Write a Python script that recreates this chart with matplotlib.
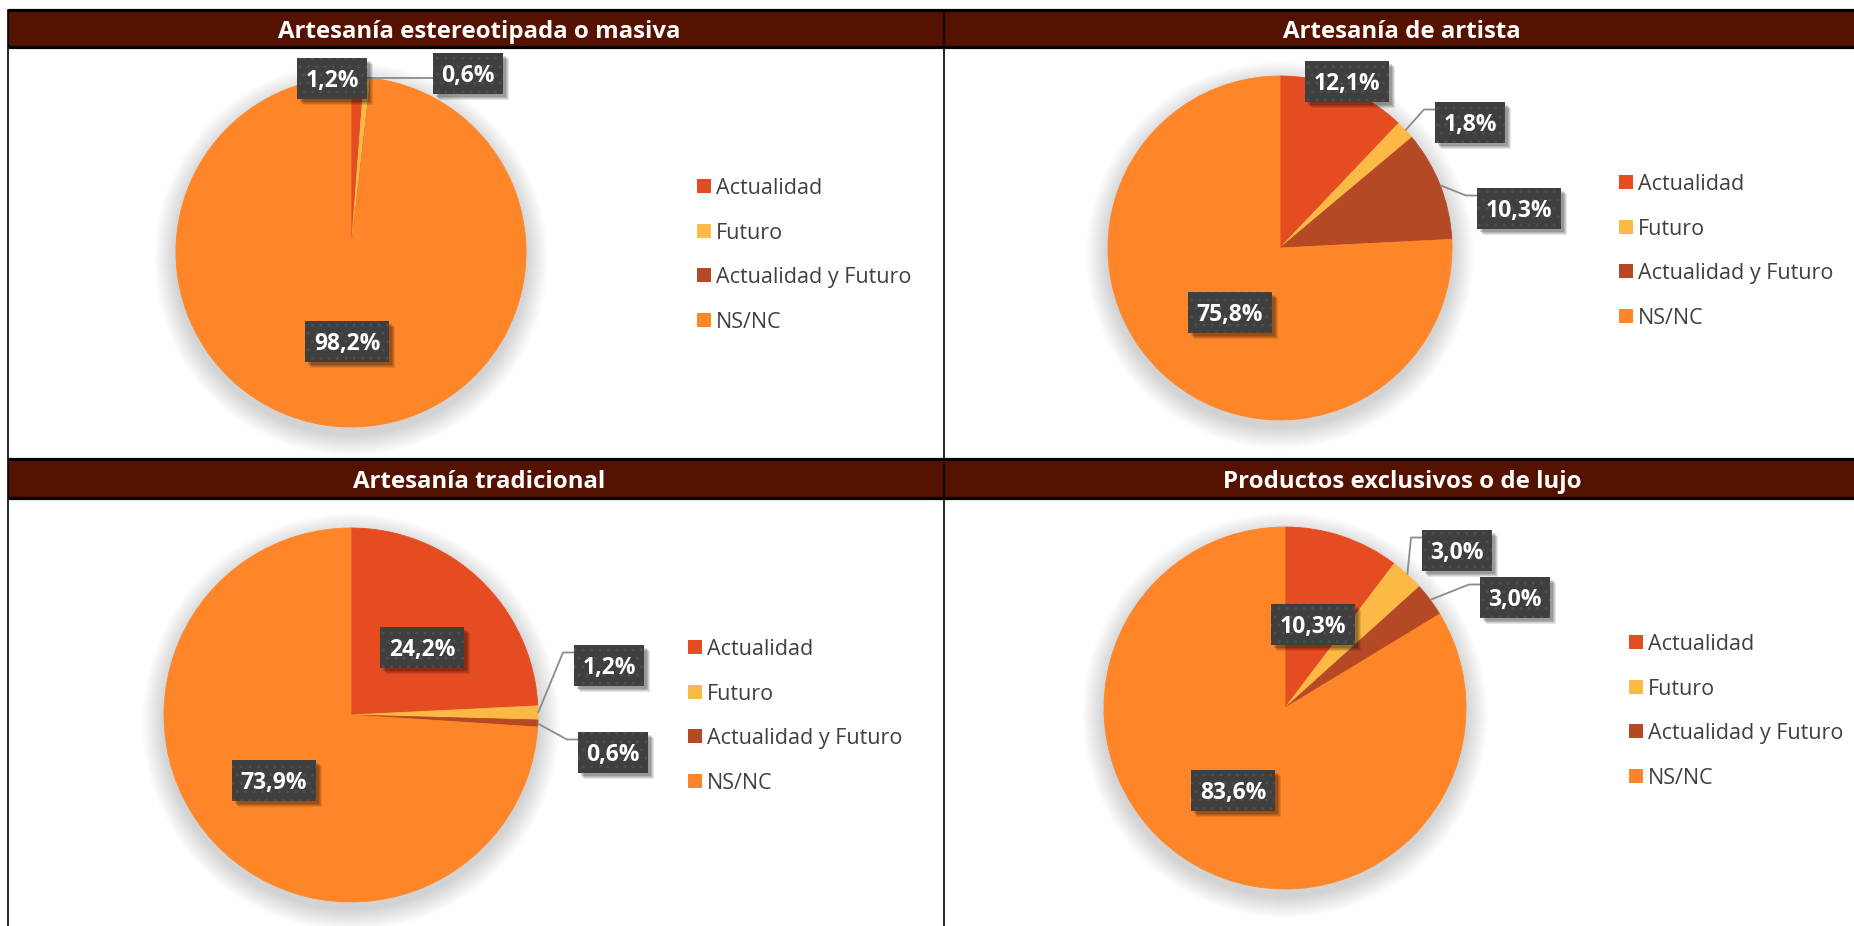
import numpy as np
import matplotlib
matplotlib.use("Agg")
import matplotlib.pyplot as plt
from matplotlib.patches import Rectangle, Circle

# ---------------------------------------------------------------- data
categories = ["Actualidad", "Futuro", "Actualidad y Futuro", "NS/NC"]
colors = ["#E64C22", "#FDB946", "#B54926", "#FF8628"]

titles = [
    "Artesanía estereotipada o masiva",
    "Artesanía de artista",
    "Artesanía tradicional",
    "Productos exclusivos o de lujo",
]
masiva = [1.2, 0.6, 0.0, 98.2]
artista = [12.1, 1.8, 10.3, 75.8]
tradicional = [24.2, 1.2, 0.6, 73.9]
lujo = [10.3, 3.0, 3.0, 83.6]
series = [masiva, artista, tradicional, lujo]

# ---------------------------------------------------------------- layout (pixels, y from top)
W, H = 1854, 926
LEFT, MID = 8, 944
ROW_BANDS = [(10, 47), (459, 498)]
panel_x = [(LEFT, MID), (MID, W), (LEFT, MID), (MID, W)]
panel_row = [0, 0, 1, 1]

pie_geom = [((351, 252), 175), ((1280, 248), 172),
            ((351, 715), 187), ((1285, 708), 181)]

# box centre of each value label (None = not shown) and whether it uses a leader line
label_pos = [
    [(332, 78), (468, 73), None, (347, 341)],
    [(1347, 81), (1470, 122), (1519, 208), (1230, 312)],
    [(422, 647), (609, 665), (613, 752), (274, 780)],
    [(1313, 624), (1457, 550), (1515, 597), (1233, 790)],
]
leader = [
    [False, "straight", False, False],
    [False, "elbow", "elbow", False],
    [False, "elbow", "elbow", False],
    [False, "elbow", "elbow", False],
]
legend_origin = [(697, 186), (1619, 182), (688, 647), (1629, 642)]
LEGEND_STEP = 44.7

FONT = ["Open Sans", "DejaVu Sans"]
HEADER = "#561200"
BOX = "#3F3F3F"
TEXT_GRAY = "#404040"

fig = plt.figure(figsize=(W / 100, H / 100), dpi=100)
ax = fig.add_axes([0, 0, 1, 1])


def Y(y):
    return H - y


# ---------------------------------------------------------------- frame and headers
for (t, b) in ROW_BANDS:
    ax.add_patch(Rectangle((LEFT, Y(b)), W - LEFT, b - t, facecolor=HEADER,
                           edgecolor="none", zorder=1))
    for yy in (t, b):
        ax.plot([LEFT, W], [Y(yy), Y(yy)], color="black", lw=2.3, zorder=2,
                solid_capstyle="butt")
for xx in (LEFT, MID):
    ax.plot([xx, xx], [Y(ROW_BANDS[0][0]), 0], color="black", lw=1.2, zorder=2)

for i, title in enumerate(titles):
    x0, x1 = panel_x[i]
    t, b = ROW_BANDS[panel_row[i]]
    ax.text((x0 + x1) / 2 + 3, Y((t + b) / 2), title, color="white",
            fontsize=17.3, fontweight="bold", family=FONT,
            ha="center", va="center_baseline", zorder=3)

# ---------------------------------------------------------------- pies
for i, vals in enumerate(series):
    (cx, cy), r = pie_geom[i]
    # soft drop shadow around the pie
    for k in range(22):
        ax.add_patch(Circle((cx, Y(cy) - 7), r + 1 + k, facecolor="black",
                            edgecolor="none", alpha=0.0065, zorder=3))
    wedges, _ = ax.pie(vals, colors=colors, startangle=90, counterclock=False,
                       center=(cx, Y(cy)), radius=r, frame=True,
                       wedgeprops=dict(linewidth=0.6, zorder=4))
    for w in wedges:
        w.set_edgecolor(w.get_facecolor())

    total = float(sum(vals))
    cum = 0.0
    for j, v in enumerate(vals):
        mid = 90 - 360.0 * (cum + v / 2) / total
        cum += v
        pos = label_pos[i][j]
        if pos is None or v == 0:
            continue
        text = f"{v:.1f}".replace(".", ",") + "%"
        bw = 14 * len(text) + 14
        bh = 41
        bx, by = pos
        left, top = bx - bw / 2, by - bh / 2

        # leader line from the slice edge to the label box
        mode = leader[i][j]
        if mode:
            ex = cx + r * np.cos(np.radians(mid))
            ey = cy - r * np.sin(np.radians(mid))
            if mode == "straight":
                xs, ys = [ex, left], [ey, ey]
            else:
                ly = top + 8
                xs, ys = [ex, left - 11, left], [ey, ly, ly]
            ax.plot(xs, [Y(v_) for v_ in ys], color="#8C8C8C", lw=1.3,
                    zorder=5, solid_capstyle="butt")

        # shadow, box, dotted texture and value text
        for k, a in enumerate((0.10, 0.10, 0.12, 0.14)):
            off = 6 - k
            ax.add_patch(Rectangle((left + off, Y(top + bh + off)), bw, bh,
                                   facecolor="black", edgecolor="none",
                                   alpha=a, zorder=6))
        ax.add_patch(Rectangle((left, Y(top + bh)), bw, bh, facecolor=BOX,
                               edgecolor="none", zorder=7))
        ax.add_patch(Rectangle((left, Y(top + bh)), bw, bh, facecolor="none",
                               edgecolor="#4E4E4E", lw=0, hatch="..",
                               zorder=7.5))
        ax.text(bx, Y(by), text, color="white", fontsize=16.5,
                fontweight="bold", family=FONT, ha="center",
                va="center_baseline", zorder=8)

    # legend
    lx, ly = legend_origin[i]
    for j, cat in enumerate(categories):
        yy = ly + j * LEGEND_STEP
        ax.add_patch(Rectangle((lx, Y(yy + 7)), 14, 14, facecolor=colors[j],
                               edgecolor="none", zorder=5))
        ax.text(lx + 19, Y(yy), cat, color=TEXT_GRAY, fontsize=15.5,
                family=FONT, ha="left", va="center_baseline", zorder=5)

ax.set_xlim(0, W)
ax.set_ylim(0, H)
ax.set_aspect("auto")
ax.set_axis_off()

fig.savefig("out.png", dpi=100, facecolor="white")
